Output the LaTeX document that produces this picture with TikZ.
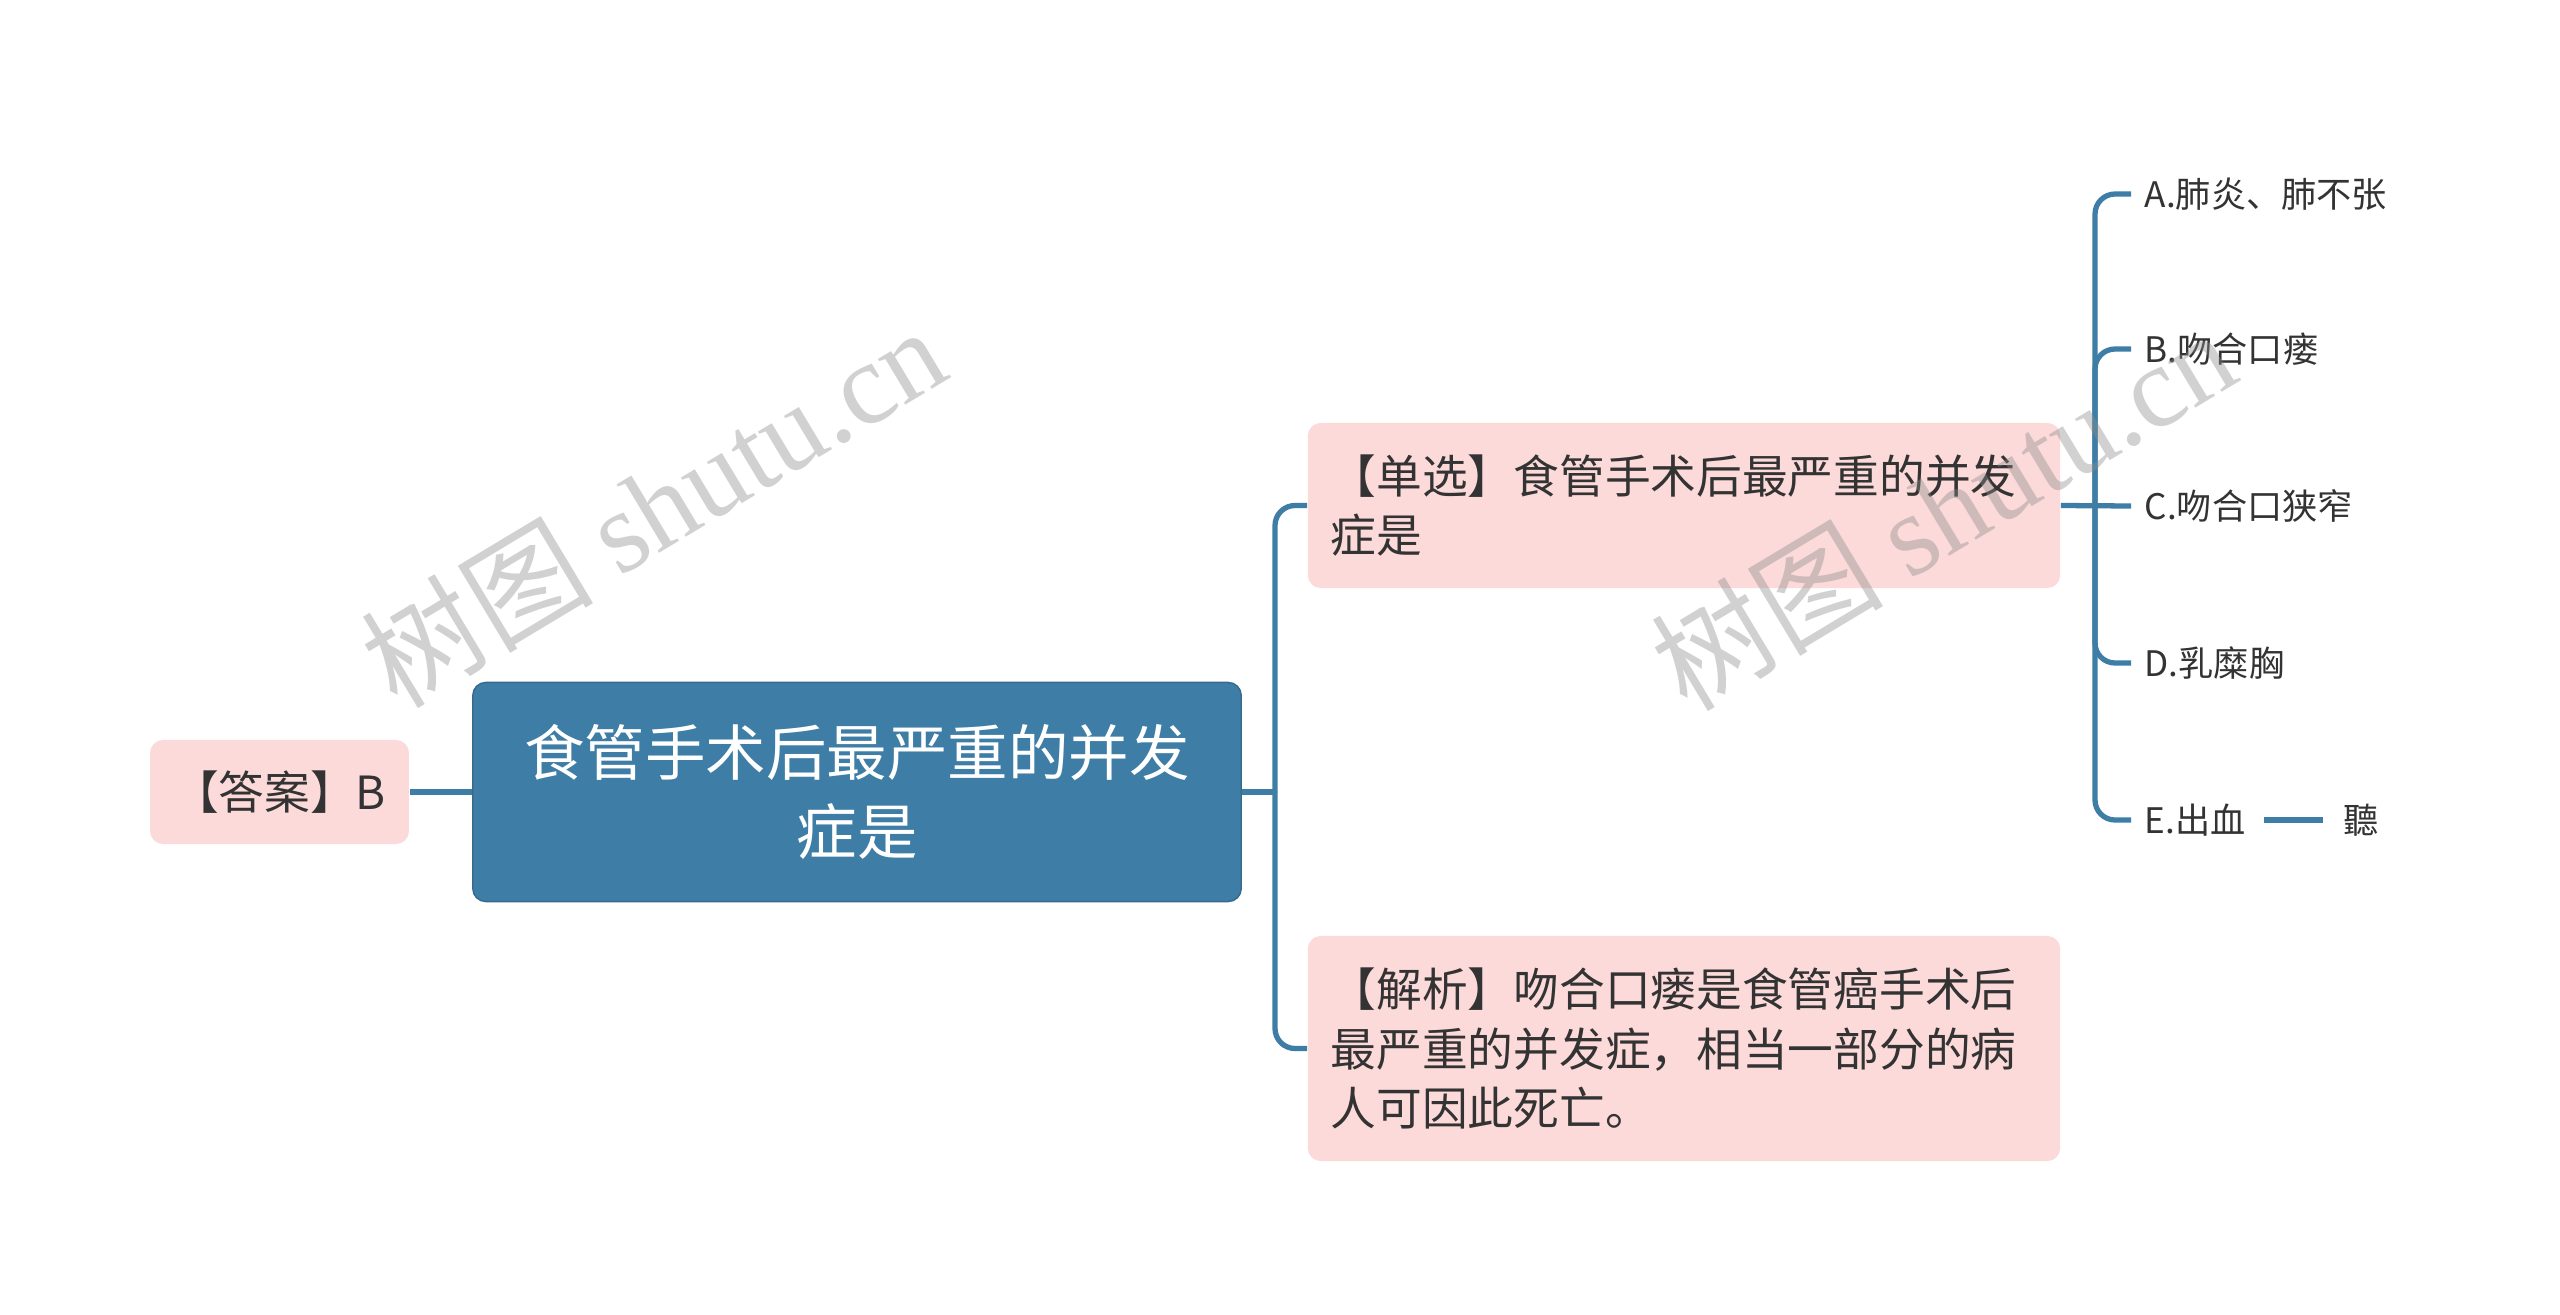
\documentclass[tikz,border=0pt]{standalone}
\usepackage{fontspec}
\setmainfont{Noto Sans CJK SC}
\newfontfamily\wmserif{Liberation Serif}
\definecolor{rootblue}{HTML}{3E7DA5}
\definecolor{pinkbox}{HTML}{FCDADA}
\definecolor{linec}{HTML}{3E7DA5}
\definecolor{txt}{HTML}{333333}
\definecolor{wm}{HTML}{8C8C8C}
\begin{document}
\begin{tikzpicture}[x=0.01cm,y=-0.01cm,
  conn/.style={draw=linec,line width=1.5pt,rounded corners=0.2cm},
  pinkn/.style={fill=pinkbox,rounded corners=0.13cm,text=txt,font=\fontsize{13}{17}\selectfont,inner xsep=0.23cm,inner ysep=0pt},
  rootn/.style={fill=rootblue,draw=rootblue!85!black,line width=0.4pt,rounded corners=0.13cm,text=white,font=\fontsize{17.2}{22.5}\selectfont,align=center,minimum width=7.68cm,minimum height=2.19cm},
  opt/.style={anchor=west,text=txt,font=\fontsize{10}{12}\selectfont,inner xsep=0.13cm,inner ysep=0pt},
  wmark/.style={rotate=31,text=wm,text opacity=0.4,font=\fontsize{33}{33}\selectfont}]
\fill[white] (0,0) rectangle (2560,1315);
\useasboundingbox (0,0) rectangle (2560,1315);

% nodes
\node[rootn] (root) at (857,792) {食管手术后最严重的并发\\症是};
\node[pinkn,minimum width=2.55cm,minimum height=1.04cm] (ans) at (279.5,792) {【答案】B};
\node[pinkn,text width=7.06cm,align=left,minimum height=1.65cm] (single) at (1684,505.5) {【单选】食管手术后最严重的并发\\症是};
\node[pinkn,text width=7.06cm,align=left,minimum height=2.25cm] (ana) at (1684,1048.5) {【解析】吻合口瘘是食管癌手术后\\最严重的并发症，相当一部分的病\\人可因此死亡。};

\node[opt] (oa) at (2131,194) {A.肺炎、肺不张};
\node[opt] (ob) at (2131,349) {B.吻合口瘘};
\node[opt] (oc) at (2131,506) {C.吻合口狭窄};
\node[opt] (od) at (2131,663) {D.乳糜胸};
\node[opt] (oe) at (2131,820) {E.出血};
\node[opt,inner xsep=0.2cm] (ting) at (2323,820) {聽};

% connectors
\coordinate (lb) at (1275,792);
\coordinate (rb) at (2095,506);
\draw[conn] (ans.east) -- (root.west);
\draw[conn] (root.east) -- (lb);
\draw[conn] (lb) |- (single.west);
\draw[conn] (lb) |- (ana.west);
\draw[conn] (single.east) -- (oc.west);
\draw[conn] (rb) |- (oa.west);
\draw[conn] (rb) |- (ob.west);
\draw[conn] (rb) |- (od.west);
\draw[conn] (rb) |- (oe.west);
\draw[conn] (oe.east) ++(0.05cm,0) -- (ting.west);

% watermarks
\node[wmark] (wm1) at (653,506) {树图 {\wmserif shutu.cn}};
\node[wmark] (wm2) at (1943,509) {树图 {\wmserif shutu.cn}};
\end{tikzpicture}
\end{document}
